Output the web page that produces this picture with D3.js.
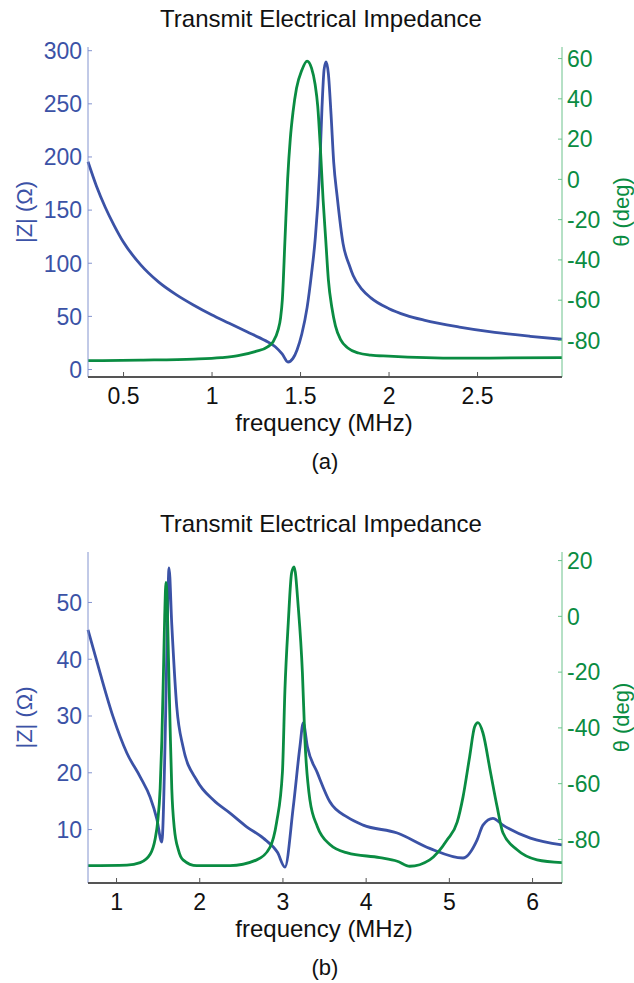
<!DOCTYPE html>
<html>
<head>
<meta charset="utf-8">
<script src="https://cdn.jsdelivr.net/npm/d3@7"></script>
<style>
  body { margin: 0; background: #fff; }
  svg { display: block; font-family: Arial, "Liberation Sans", sans-serif; }
</style>
</head>
<body>
<svg width="634" height="983"></svg>
<script>
// panel (a): one resonance
const freqA_mag = [0.302, 0.35, 0.4, 0.45, 0.5, 0.6, 0.7, 0.8, 0.9, 1.0, 1.1, 1.2, 1.3, 1.36, 1.40, 1.432, 1.46,
  1.483, 1.51, 1.54, 1.565, 1.585, 1.61, 1.624, 1.636, 1.647, 1.66, 1.675, 1.69, 1.71, 1.743, 1.78, 1.80, 1.85,
  1.9, 2.0, 2.1, 2.2, 2.4, 2.6, 2.8, 2.98];
const magA = [195, 172, 152, 135, 120, 98, 82, 70, 60, 51, 43, 35, 27, 21, 14, 6.6, 10,
  18, 33, 58, 90, 121, 184, 246, 282, 289, 278, 240, 195, 162, 118, 97, 88, 75,
  67, 57, 50.5, 46, 39.5, 34.5, 30.8, 28];

const freqA_phase = [0.302, 0.6, 0.9, 1.054, 1.15, 1.246, 1.319, 1.347, 1.376, 1.39, 1.40, 1.415, 1.43, 1.445, 1.46,
  1.48, 1.51, 1.54, 1.565, 1.585, 1.60, 1.615, 1.63, 1.645, 1.66, 1.68, 1.70, 1.73, 1.77, 1.83, 1.9, 2.0, 2.4, 2.98];
const phaseA = [-90.3, -90, -89.5, -88.8, -87.8, -85.8, -83.3, -81, -75, -69, -60, -30, 0, 20, 33,
  45, 54, 58.5, 55, 47, 36, 15, -10, -30, -50, -64, -73, -80, -84, -86.5, -87.5, -88, -89, -88.8];

// panel (b): three resonances
const freqB_mag = [0.663, 0.808, 0.964, 1.13, 1.29, 1.41, 1.49, 1.55, 1.59, 1.613, 1.637, 1.67, 1.73, 1.805, 1.97, 2.17,
  2.37, 2.57, 2.77, 2.94, 3.03, 3.13, 3.21, 3.25, 3.30, 3.42, 3.57, 3.78, 3.97, 4.38, 4.77, 5.17, 5.34, 5.41, 5.53,
  5.65, 5.98, 6.36];
const magB = [45.1, 37.5, 29.8, 23.4, 19.2, 15.6, 11.8, 7.7, 25.7, 43, 56, 46, 31.5, 24.5, 18.6, 15.1,
  12.8, 10.4, 8.4, 5.9, 3.3, 13.9, 24.5, 28.7, 24.5, 19.9, 14.8, 12.1, 10.7, 9.3, 6.6, 4.9, 8.1, 10.7, 11.9,
  10.7, 8.4, 7.2];

const freqB_phase = [0.663, 1.13, 1.29, 1.41, 1.47, 1.50, 1.53, 1.55, 1.57, 1.585, 1.60, 1.615, 1.63, 1.65, 1.67, 1.70,
  1.75, 1.805, 1.97, 2.37, 2.69, 2.85, 2.93, 3.0, 3.03, 3.07, 3.11, 3.14, 3.19, 3.24, 3.27, 3.33, 3.42, 3.57, 3.78,
  4.17, 4.38, 4.53, 4.77, 4.98, 5.10, 5.17, 5.25, 5.31, 5.35, 5.41, 5.50, 5.58, 5.65, 5.82, 6.06, 6.36];
const phaseB = [-89.6, -89.4, -88.5, -85.5, -80, -74, -62, -45, -20, 0, 12, 5, -15, -40, -62, -76,
  -84, -87.5, -89.6, -89.6, -87.5, -83, -74, -56, -26.5, -2.5, 15.4, 17.6, 3.2, -20.4, -44.4, -66, -75.6, -82, -85,
  -86.7, -88, -89.8, -87.5, -80.3, -74, -65, -50.5, -39.8, -38.3, -42, -56, -68.4, -77.8, -83.9, -87.5, -88.5];

const magTicksA = [0, 50, 100, 150, 200, 250, 300];
const phaseTicksA = [-80, -60, -40, -20, 0, 20, 40, 60];
const freqTicksA = [0.5, 1, 1.5, 2, 2.5];
const magTicksB = [10, 20, 30, 40, 50];
const phaseTicksB = [-80, -60, -40, -20, 0, 20];
const freqTicksB = [1, 2, 3, 4, 5, 6];

const blue = "#3b52a6", green = "#0a8c42";
const svg = d3.select("svg");

function panel(o) {
  const left = 88, right = 562;
  const x = d3.scaleLinear().domain(o.xDomain).range([left, right]);
  const yL = d3.scaleLinear().domain(o.magDomain).range([o.bottom, o.top]);
  const yR = d3.scaleLinear().domain(o.phaseDomain).range([o.bottom, o.top]);
  const g = svg.append("g");

  g.append("text").attr("x", 321).attr("y", o.top - 20)
    .attr("text-anchor", "middle").attr("font-size", 24).attr("fill", "#111")
    .text("Transmit Electrical Impedance");

  const line = (sx, sy) => d3.line().x(d => sx(d[0])).y(d => sy(d[1])).curve(d3.curveMonotoneX);

  g.append("path").datum(d3.zip(o.fm, o.mag))
    .attr("fill", "none").attr("stroke", blue).attr("stroke-width", 2.8)
    .attr("d", line(x, yL));
  g.append("path").datum(d3.zip(o.fp, o.phase))
    .attr("fill", "none").attr("stroke", green).attr("stroke-width", 2.8)
    .attr("d", line(x, yR));

  // left axis
  const ax = g.append("g").attr("transform", `translate(${left},0)`)
    .call(d3.axisRight(yL).tickValues(o.magTicks).tickSize(4).tickFormat(d3.format("d")));
  ax.select(".domain").attr("stroke", "#8494cf").attr("d", `M0,${o.top}V${o.bottom}`);
  ax.selectAll(".tick line").attr("stroke", "#8494cf");
  ax.selectAll(".tick text").attr("x", -6).attr("text-anchor", "end")
    .attr("font-size", 23).attr("fill", blue).attr("dy", "0.36em");

  // right axis
  const ar = g.append("g").attr("transform", `translate(${right},0)`)
    .call(d3.axisLeft(yR).tickValues(o.phaseTicks).tickSize(4).tickFormat(d3.format("d")));
  ar.select(".domain").attr("stroke", "#6cc28c").attr("d", `M0,${o.top}V${o.bottom}`);
  ar.selectAll(".tick line").attr("stroke", "#6cc28c");
  ar.selectAll(".tick text").attr("x", 5).attr("text-anchor", "start")
    .attr("font-size", 23).attr("fill", green).attr("dy", "0.36em")
    .text(d => d < 0 ? "-" + Math.abs(d) : d);

  // bottom axis
  const ab = g.append("g").attr("transform", `translate(0,${o.bottom})`)
    .call(d3.axisTop(x).tickValues(o.freqTicks).tickSize(5).tickFormat(d => d));
  ab.select(".domain").attr("stroke", "#555").attr("stroke-width", 2).attr("d", `M${left},0H${right}`);
  ab.selectAll(".tick line").attr("stroke", "#555");
  ab.selectAll(".tick text").attr("y", 27).attr("dy", 0)
    .attr("font-size", 23).attr("fill", "#111");

  g.append("text").attr("x", 324).attr("y", o.bottom + 54)
    .attr("text-anchor", "middle").attr("font-size", 24).attr("fill", "#111")
    .text("frequency (MHz)");
  g.append("text").attr("x", 325).attr("y", o.bottom + 92)
    .attr("text-anchor", "middle").attr("font-size", 22).attr("fill", "#111")
    .text(o.tag);

  const mid = (o.top + o.bottom) / 2;
  g.append("text").attr("transform", `translate(32,${mid}) rotate(-90)`)
    .attr("text-anchor", "middle").attr("font-size", 22).attr("fill", blue)
    .text("|Z| (Ω)");
  g.append("text").attr("transform", `translate(629,${mid}) rotate(-90)`)
    .attr("text-anchor", "middle").attr("font-size", 22).attr("fill", green)
    .text("θ (deg)");
}

panel({
  top: 47, bottom: 377, tag: "(a)",
  xDomain: [0.302, 2.98], magDomain: [-7.5, 303], phaseDomain: [-98.4, 65.5],
  fm: freqA_mag, mag: magA, fp: freqA_phase, phase: phaseA,
  magTicks: magTicksA, phaseTicks: phaseTicksA, freqTicks: freqTicksA
});

panel({
  top: 552, bottom: 883, tag: "(b)",
  xDomain: [0.663, 6.36], magDomain: [0.5, 58.8], phaseDomain: [-95.8, 22.9],
  fm: freqB_mag, mag: magB, fp: freqB_phase, phase: phaseB,
  magTicks: magTicksB, phaseTicks: phaseTicksB, freqTicks: freqTicksB
});
</script>
</body>
</html>
